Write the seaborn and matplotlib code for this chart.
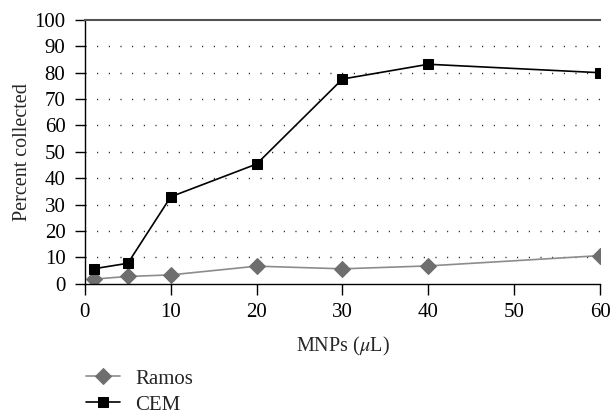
import matplotlib
matplotlib.use("Agg")
import matplotlib.pyplot as plt
import seaborn as sns
import pandas as pd

# MNP volume (µL) and percentage of cells collected
mnp_volume = [1, 5, 10, 20, 30, 40, 60]
ramos_pct = [1.8, 2.8, 3.4, 6.7, 5.7, 6.8, 10.7]
cem_pct = [5.7, 7.8, 33.0, 45.4, 77.6, 83.2, 80.0]

x_ticks = [0, 10, 20, 30, 40, 50, 60]
y_ticks = [0, 10, 20, 30, 40, 50, 60, 70, 80, 90, 100]

sns.set_theme(style="white")
plt.rcParams["font.family"] = ["Liberation Serif", "DejaVu Serif"]
plt.rcParams["mathtext.fontset"] = "stix"

df = pd.concat([
    pd.DataFrame({"MNPs": mnp_volume, "pct": ramos_pct, "Cell line": "Ramos"}),
    pd.DataFrame({"MNPs": mnp_volume, "pct": cem_pct, "Cell line": "CEM"}),
])

fig = plt.figure(figsize=(6.11, 4.15), dpi=100)
ax = fig.add_axes([0.139, 0.316, 0.843, 0.636])

sns.lineplot(
    data=df[df["Cell line"] == "Ramos"], x="MNPs", y="pct", ax=ax,
    color="#8c8c8c", lw=1.2, marker="D", markersize=8.3,
    markerfacecolor="#6e6e6e", markeredgecolor="#6e6e6e", label="Ramos",
)
sns.lineplot(
    data=df[df["Cell line"] == "CEM"], x="MNPs", y="pct", ax=ax,
    color="black", lw=1.2, marker="s", markersize=7.2,
    markerfacecolor="black", markeredgecolor="black", label="CEM",
)

ax.set_xlim(0, 60)
ax.set_ylim(0, 100)
ax.set_xticks(x_ticks)
ax.set_yticks(y_ticks)

# dotted horizontal guides between 10 and 90
for yv in y_ticks[1:-1]:
    ax.axhline(yv, color="black", lw=1.0, ls=(0, (0.7, 7.7)), zorder=0)

ax.spines["right"].set_visible(False)
ax.spines["top"].set_color("#555555")
ax.spines["top"].set_linewidth(1.5)
for side in ["left", "bottom"]:
    ax.spines[side].set_color("black")
    ax.spines[side].set_linewidth(1.0)

ax.tick_params(axis="x", bottom=True, direction="out", length=8, width=1.0,
               labelsize=15, pad=6, colors="black")
ax.tick_params(axis="y", left=True, direction="out", length=7, width=1.0,
               labelsize=15, pad=7, colors="black")
ax.set_xlabel(r"MNPs ($\mu$L)", fontsize=14.5, labelpad=9)
ax.set_ylabel("Percent collected", fontsize=14.5, labelpad=2)

ax.get_legend().remove()
handles, labels = ax.get_legend_handles_labels()
fig.legend(handles, labels, loc="upper left", bbox_to_anchor=(0.141, 0.111),
           bbox_transform=fig.transFigure, frameon=False, fontsize=15,
           handlelength=1.63, handletextpad=0.72, labelspacing=0.32,
           borderpad=0, borderaxespad=0)

fig.savefig("out.png", dpi=100)
